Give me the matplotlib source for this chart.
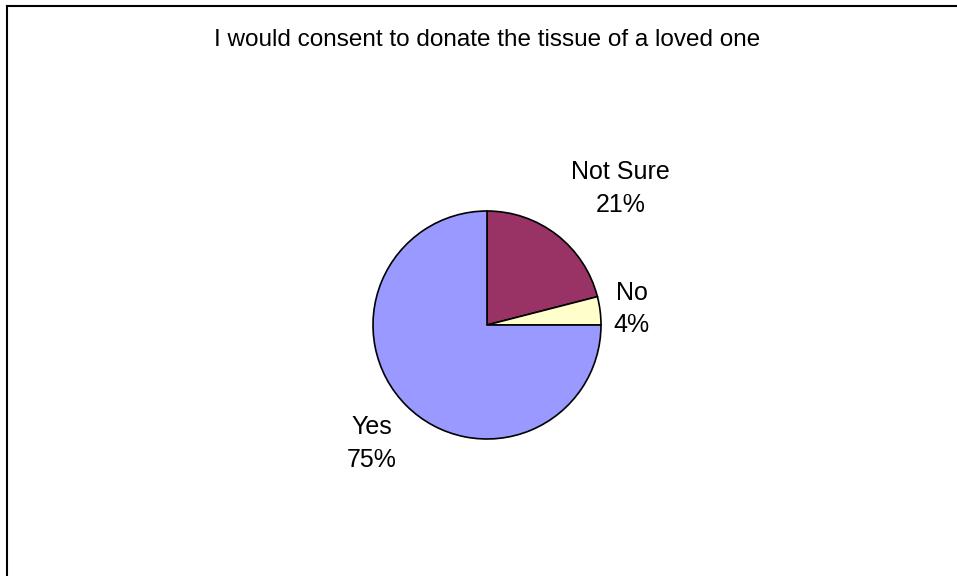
import numpy as np
import matplotlib.pyplot as plt
from matplotlib.lines import Line2D

plt.rcParams['font.family'] = ['Liberation Sans', 'DejaVu Sans']

title = 'I would consent to donate the tissue of a loved one'
labels = ['Not Sure', 'No', 'Yes']
values = [21, 4, 75]
colors = ['#993366', '#FFFFCC', '#9999FF']
label_dist = [1.2, 1.12, 1.12]

W, H = 957, 576
fig = plt.figure(figsize=(W / 100, H / 100), dpi=100)

# pie centre (487, 325) px, radius 114 px
cx, cy, r = 487, 325, 114
ax = fig.add_axes([(cx - r) / W, (H - cy - r) / H, 2 * r / W, 2 * r / H])
wedges, _ = ax.pie(values, colors=colors, startangle=90, counterclock=False,
                   radius=1, wedgeprops=dict(edgecolor='black', linewidth=1.2))
ax.set_xlim(-1, 1)
ax.set_ylim(-1, 1)
ax.set_aspect('equal')
ax.axis('off')

# excel-like data labels: box corner sits just outside the slice
for w, lab, v, d in zip(wedges, labels, values, label_dist):
    ang = np.deg2rad((w.theta1 + w.theta2) / 2)
    c, s = np.cos(ang), np.sin(ang)
    ha = 'left' if c > 0 else 'right'
    if abs(s) < 0.4:
        va = 'center'
    else:
        va = 'bottom' if s > 0 else 'top'
    ax.text(d * c, d * s, f'{lab}\n{v}%', ha=ha, va=va, multialignment='center',
            fontsize=18, linespacing=1.45, clip_on=False)

fig.text(487 / W, 1 - 46 / H, title, ha='center', va='baseline', fontsize=17.5)

# chart frame (only top and left edges visible)
fig.add_artist(Line2D([7 / W, 7 / W], [0, 1 - 6 / H], color='black', lw=1.5, transform=fig.transFigure))
fig.add_artist(Line2D([7 / W, 1], [1 - 6 / H, 1 - 6 / H], color='black', lw=1.5, transform=fig.transFigure))

fig.savefig('out.png', dpi=100)
